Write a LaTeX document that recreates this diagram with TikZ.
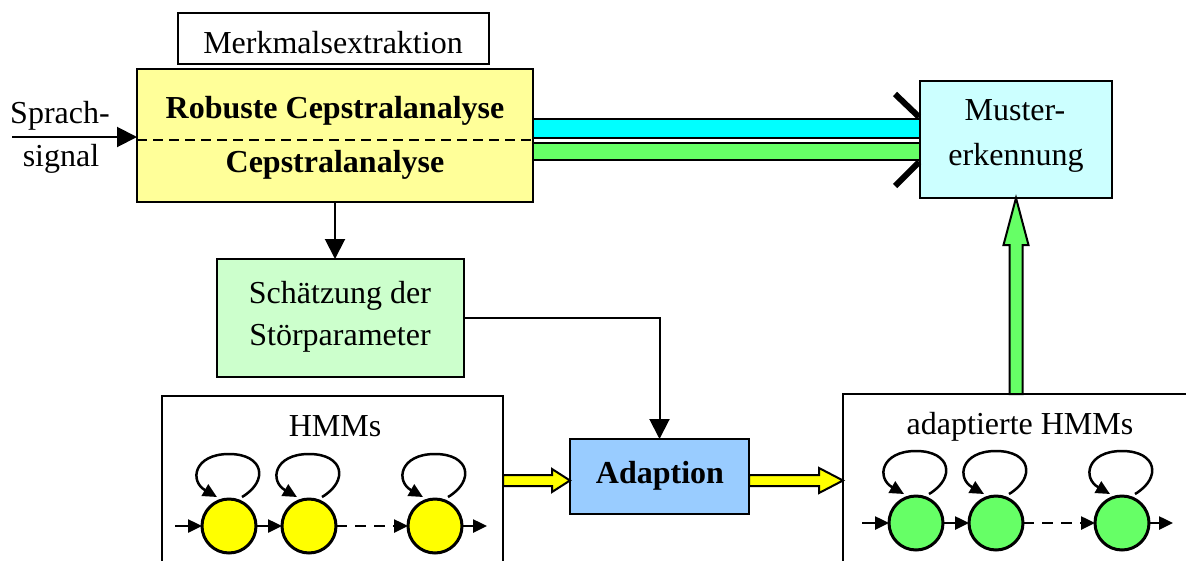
\documentclass[tikz,border=0pt]{standalone}
\usepackage{fontspec}
\setmainfont{Liberation Serif}
\usetikzlibrary{arrows.meta,calc}

\definecolor{boxyellow}{HTML}{FFFF99}
\definecolor{barcyan}{HTML}{00FFFF}
\definecolor{bargreen}{HTML}{66FF66}
\definecolor{mustfill}{HTML}{CCFFFF}
\definecolor{schfill}{HTML}{CCFFCC}
\definecolor{adaptfill}{HTML}{99CCFF}
\definecolor{stateyellow}{HTML}{FFFF00}

\begin{document}
\begin{tikzpicture}[x=1pt,y=-1pt,
  every node/.style={inner sep=0pt, outer sep=0pt},
  lbl/.style={anchor=base, font=\fontsize{32}{40}\selectfont},
  blbl/.style={anchor=base, font=\fontsize{32}{40}\selectfont\bfseries},
  box/.style={draw, line width=2pt, anchor=north west},
  conn/.style={line width=2pt, -{Triangle[length=20pt,width=20pt]}},
  state/.style={circle, draw, line width=3pt, minimum size=54pt},
  hmmarr/.style={line width=2.5pt, -{Triangle[length=14pt,width=13pt]}},
  bar/.style={draw, line width=2pt},
  blockarr/.style={draw, line width=2pt, line join=miter},
]
\useasboundingbox (0,0) rectangle (1186,560);
\clip (0,0) rectangle (1186,560);

% ---- feature extraction ----
\node[box, minimum width=311pt, minimum height=51pt] (mx) at (178,13) {};
\node[lbl] (mxt) at (333,53) {Merkmalsextraktion};

\node[box, fill=boxyellow, minimum width=396pt, minimum height=133pt] (yb) at (137,69) {};
\coordinate (dashL) at (137,140);
\coordinate (dashR) at (533,140);
\draw[line width=2pt, dash pattern=on 10pt off 6pt] (dashL) -- (dashR);
\node[blbl] (rob) at (335,118) {Robuste Cepstralanalyse};
\node[blbl] (cep) at (335,172) {Cepstralanalyse};

% ---- input signal ----
\node[lbl] (spr) at (60,123) {Sprach-};
\node[lbl] (sig) at (61,166) {signal};
\coordinate (in) at (12,137);
\draw[conn] (in) -- (in -| yb.west);

% ---- pattern recognition ----
\node[box, fill=mustfill, minimum width=192pt, minimum height=117pt] (mu) at (920,81) {};
\node[lbl] (mut1) at (1015,120) {Muster-};
\node[lbl] (mut2) at (1016,165) {erkennung};

% feature streams
\draw[bar, fill=barcyan] ($(yb.east)+(0,-16.5)$) rectangle ($(yb.east -| mu.west)+(0,2.5)$);
\draw[bar, fill=bargreen] ($(yb.east)+(0,7.5)$) rectangle ($(yb.east -| mu.west)+(0,24.5)$);

% switch marks
\draw[line width=6pt] ($(mu.west)+(-25,-45.5)$) -- ($(mu.west)+(-1,-22.5)$);
\draw[line width=6pt] ($(mu.west)+(-1,22.5)$) -- ($(mu.west)+(-25,46.5)$);

% ---- noise estimation ----
\node[box, fill=schfill, minimum width=247pt, minimum height=118pt] (sch) at (217,259) {};
\node[lbl] (scht1) at (340,303) {Schätzung der};
\node[lbl] (scht2) at (340,345) {Störparameter};
\draw[conn] (yb.south) -- (yb.south |- sch.north);

% ---- adaptation ----
\node[box, fill=adaptfill, minimum width=179pt, minimum height=75pt] (ad) at (570,439) {};
\node[blbl] (adt) at (660,483) {Adaption};
\draw[conn] (sch.east) -| (ad.north);

% ---- HMM boxes ----
\node[box, minimum width=341pt, minimum height=250pt] (hmm) at (162,396) {};
\node[lbl] (hmmt) at (335,436) {HMMs};
\node[box, minimum width=400pt, minimum height=250pt] (ahmm) at (843,394) {};
\node[lbl] (ahmmt) at (1020,434) {adaptierte HMMs};

% states
\node[state, fill=stateyellow] (h1) at (229,526) {};
\node[state, fill=stateyellow] (h2) at (309,526) {};
\node[state, fill=stateyellow] (h3) at (435,526) {};
\node[state, fill=bargreen] (a1) at (916,523) {};
\node[state, fill=bargreen] (a2) at (996,523) {};
\node[state, fill=bargreen] (a3) at (1122,523) {};

\coordinate (h0) at (175,526);
\coordinate (h4) at (487,526);
\draw[hmmarr] (h0) -- (h1);
\draw[hmmarr] (h1) -- (h2);
\draw[hmmarr, dash pattern=on 11pt off 8pt] (h2) -- (h3);
\draw[hmmarr] (h3) -- (h4);

\coordinate (a0) at (862,523);
\coordinate (a4) at (1173,523);
\draw[hmmarr] (a0) -- (a1);
\draw[hmmarr] (a1) -- (a2);
\draw[hmmarr, dash pattern=on 11pt off 8pt] (a2) -- (a3);
\draw[hmmarr] (a3) -- (a4);

% self transitions
\foreach \c in {h1,h2,h3,a1,a2,a3}{
  \draw[hmmarr] ($(\c)+(13,-29)$) .. controls ($(\c)+(40,-45)$) and ($(\c)+(35,-72)$) .. ($(\c)+(0,-72)$)
    .. controls ($(\c)+(-35,-72)$) and ($(\c)+(-40,-45)$) .. ($(\c)+(-12,-29)$);
}

% ---- block arrows ----
\coordinate (y1t) at ($(ad.west)+(0,4)$);
\coordinate (y1s) at (y1t -| hmm.east);
\draw[blockarr, fill=stateyellow] ($(y1s)+(0,-5.5)$) -- ($(y1t)+(-18,-5.5)$) -- ($(y1t)+(-18,-11.5)$)
  -- (y1t) -- ($(y1t)+(-18,11.5)$) -- ($(y1t)+(-18,5.5)$) -- ($(y1s)+(0,5.5)$) -- cycle;

\coordinate (y2s) at ($(ad.east)+(0,4)$);
\coordinate (y2t) at (y2s -| ahmm.west);
\draw[blockarr, fill=stateyellow] ($(y2s)+(0,-5.5)$) -- ($(y2t)+(-24,-5.5)$) -- ($(y2t)+(-24,-12.5)$)
  -- (y2t) -- ($(y2t)+(-24,12.5)$) -- ($(y2t)+(-24,5.5)$) -- ($(y2s)+(0,5.5)$) -- cycle;

\coordinate (gt) at (mu.south);
\coordinate (gs) at (mu.south |- ahmm.north);
\draw[blockarr, fill=bargreen] ($(gs)+(-6.5,0)$) -- ($(gt)+(-6.5,47)$) -- ($(gt)+(-12.5,47)$)
  -- (gt) -- ($(gt)+(12.5,47)$) -- ($(gt)+(6.5,47)$) -- ($(gs)+(6.5,0)$) -- cycle;
\end{tikzpicture}
\end{document}
